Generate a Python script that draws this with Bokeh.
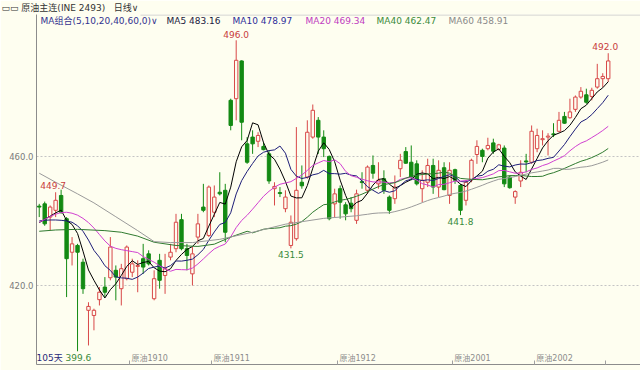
import pandas as pd
from bokeh.plotting import figure
from bokeh.models import Range1d, FixedTicker, Label, ColumnDataSource, NumeralTickFormatter
from bokeh.core.properties import value
from bokeh.embed import file_html
from bokeh.resources import INLINE

# Daily OHLC of the INE crude oil main contract, 105 sessions
opens = [444.6, 445.3, 441.2, 443.3, 447.9, 440.7, 430.3, 432.4, 427.2, 412.3,
         410.7, 415.6, 419.5, 422.4, 424.7, 419.0, 422.1, 424.1, 425.9, 428.3,
         429.8, 415.9, 427.8, 423.1, 428.8, 431.4, 440.4, 431.4, 423.6, 435.0,
         444.3, 435.5, 442.7, 448.9, 449.5, 477.4, 477.9, 489.6, 463.9, 466.0,
         464.7, 463.1, 460.8, 450.0, 448.8, 443.8, 432.4, 434.5, 452.0, 453.6,
         466.0, 471.2, 466.0, 460.0, 445.3, 450.0, 445.0, 445.5, 440.2, 452.2,
         449.5, 457.2, 451.5, 453.1, 447.4, 446.9, 456.2, 461.5, 458.2, 457.7,
         450.0, 452.0, 457.2, 450.5, 456.5, 447.9, 455.9, 451.0, 446.4, 452.8,
         460.6, 461.9, 462.4, 464.2, 462.2, 462.6, 453.6, 447.4, 452.4, 458.6,
         458.2, 462.4, 465.2, 466.0, 467.0, 467.8, 472.4, 472.0, 474.6, 478.4,
         479.1, 478.6, 481.5, 484.1, 484.1]
highs = [445.3, 446.0, 444.8, 448.9, 449.7, 441.2, 435.0, 432.9, 428.3, 414.8,
         412.8, 419.5, 422.6, 435.0, 426.2, 426.7, 432.4, 428.3, 427.8, 432.9,
         430.9, 424.7, 429.8, 429.8, 432.9, 442.2, 442.2, 432.9, 431.9, 442.2,
         451.5, 451.0, 451.0, 455.1, 451.5, 477.9, 496.0, 489.8, 466.0, 468.1,
         467.5, 464.4, 461.9, 452.0, 450.5, 449.5, 441.7, 469.1, 457.2, 471.2,
         476.1, 472.2, 468.1, 460.3, 450.0, 451.0, 445.8, 447.4, 449.7, 455.1,
         457.2, 460.3, 458.2, 455.7, 447.9, 454.1, 460.8, 462.9, 463.4, 458.8,
         455.7, 459.3, 459.3, 458.8, 458.2, 458.2, 456.2, 451.5, 452.6, 459.3,
         465.0, 462.4, 465.8, 465.5, 463.9, 463.4, 454.1, 449.5, 458.8, 460.8,
         469.6, 468.6, 468.1, 467.2, 470.3, 473.8, 473.8, 477.9, 478.9, 481.5,
         481.0, 481.3, 488.7, 485.8, 492.0]
lows = [441.2, 438.5, 437.1, 441.2, 442.2, 416.4, 426.2, 399.6, 417.4, 401.4,
        406.1, 413.8, 416.4, 421.6, 415.4, 413.8, 421.6, 422.6, 417.9, 423.6,
        426.2, 415.4, 419.0, 417.4, 427.8, 430.3, 430.9, 424.7, 420.0, 432.9,
        442.7, 435.0, 441.2, 447.9, 433.4, 468.1, 471.2, 465.0, 457.7, 460.8,
        462.9, 461.9, 451.5, 444.8, 447.4, 442.7, 431.5, 433.9, 450.0, 453.1,
        465.5, 460.8, 459.8, 440.2, 441.2, 440.7, 440.2, 442.7, 439.1, 450.0,
        448.4, 453.1, 450.0, 448.4, 442.2, 445.3, 453.6, 457.7, 452.6, 451.0,
        445.8, 450.5, 448.4, 447.4, 449.5, 445.3, 451.5, 441.8, 444.8, 452.0,
        457.7, 458.2, 461.9, 460.8, 461.9, 450.5, 450.0, 445.3, 450.5, 455.1,
        457.7, 461.3, 463.4, 460.3, 466.0, 467.5, 470.1, 471.7, 473.8, 477.9,
        476.3, 477.4, 481.0, 481.5, 483.1]
closes = [444.3, 439.1, 444.3, 446.4, 442.7, 428.3, 432.9, 430.3, 419.0, 413.5,
          412.3, 417.9, 417.9, 431.9, 422.6, 425.2, 431.9, 426.7, 426.2, 425.7,
          426.7, 422.1, 421.6, 425.2, 430.3, 439.6, 431.4, 429.3, 429.8, 439.1,
          443.3, 450.5, 447.4, 448.4, 436.5, 469.6, 489.8, 470.6, 458.2, 463.9,
          466.5, 462.1, 452.4, 450.7, 448.5, 447.4, 439.6, 449.5, 450.9, 467.5,
          474.3, 466.0, 462.4, 440.7, 448.4, 445.8, 442.2, 443.8, 448.4, 451.9,
          456.7, 454.8, 452.6, 449.5, 443.3, 450.5, 458.8, 457.9, 453.6, 451.5,
          452.6, 457.2, 450.5, 455.7, 449.7, 455.7, 452.6, 443.3, 452.0, 458.8,
          463.1, 460.0, 463.4, 461.6, 463.6, 451.5, 450.3, 449.1, 455.1, 458.3,
          467.8, 466.5, 465.5, 466.3, 466.7, 471.2, 470.3, 473.8, 478.4, 480.2,
          476.8, 480.5, 484.1, 484.8, 489.6]

# Moving-average values before enough sessions are on screen (index -> price)
ma5_head_x = [0, 1, 2, 3]
ma5_head_y = [439.5, 440.5, 441.5, 442.5]
ma10_head_x = [0, 1, 2, 3, 4, 5, 6, 7, 8]
ma10_head_y = [440.0, 440.2, 440.3, 440.3, 440.2, 440.0, 439.6, 438.5, 436.8]
ma20_head_x = list(range(19))
ma20_head_y = [439.6, 440.5, 441.4, 442.1, 442.6, 442.7, 442.4, 441.8, 440.8, 439.5,
               437.8, 435.8, 433.8, 432.2, 431.5, 431.1, 430.8, 430.5, 430.2]
ma40_head_x = [0, 3, 7, 12, 15, 18, 21, 25, 29, 32, 35, 38]
ma40_head_y = [436.8, 437.2, 437.4, 437.0, 436.5, 435.3, 433.4, 432.4, 432.1, 432.8, 435.0, 436.8]
ma60_head_x = [0, 3, 7, 10, 14, 18, 21, 24, 28, 33, 39, 45, 52, 58]
ma60_head_y = [454.8, 452.0, 448.4, 445.6, 441.3, 437.0, 433.6, 433.3, 433.3, 434.3, 436.5, 439.0, 440.8, 441.6]

ma_periods = [5, 10, 20, 40, 60]
ma_colors = ["#000000", "#1E1E78", "#D040D0", "#2F7A2F", "#9A9A9A"]
ma_text_colors = ["#1A1A40", "#2E2E9A", "#C03CC0", "#3A8A3A", "#8A8A8A"]

month_ticks = [16.5, 31.5, 54.5, 75.5, 90.5]
month_labels = ["原油1910", "原油1911", "原油1912", "原油2001", "原油2002"]

peak_idx = [4, 36, 104]
trough_idx = [46, 77]

BG = "#FEFEF0"
UP = "#D84848"
DOWN = "#138A13"
FONT = "DejaVu Sans, Noto Sans CJK SC"

n = len(closes)
idx = list(range(n))

X0, X1 = -0.5, 109.9
Y0, Y1 = 395.5, 504.0

p = figure(width=640, height=370, output_backend="svg", toolbar_location=None,
           x_range=Range1d(X0, X1), y_range=Range1d(Y0, Y1),
           min_border_left=36, min_border_right=0, min_border_top=14, min_border_bottom=6,
           background_fill_color=BG, border_fill_color=BG, outline_line_color=None)

# header line above the chart
p.title.text = "▭▭ 原油主连(INE 2493)\u00a0\u00a0\u00a0日线∨"
p.title.align = "left"
p.title.offset = -35
p.title.standoff = 1
p.title.vertical_align = "middle"
p.title.text_font = FONT
p.title.text_font_size = "9px"
p.title.text_font_style = "normal"
p.title.text_color = "#333333"

# axes and grid
p.yaxis.ticker = FixedTicker(ticks=[420, 460])
p.yaxis.formatter = NumeralTickFormatter(format="0.0")
p.yaxis.major_tick_out = 0
p.yaxis.major_tick_in = 0
p.yaxis.minor_tick_line_color = None
p.yaxis.axis_line_color = "#8C8C8C"
p.yaxis.major_label_standoff = 3
p.yaxis.major_label_text_font = FONT
p.yaxis.major_label_text_font_size = "8.5px"
p.yaxis.major_label_text_color = "#7A7A7A"

p.ygrid.ticker = FixedTicker(ticks=[420, 460])
p.ygrid.grid_line_color = "#C4C4C4"
p.ygrid.grid_line_dash = "2 2"
p.xgrid.visible = False

p.xaxis.ticker = FixedTicker(ticks=month_ticks + [103.5])
p.xaxis.major_label_overrides = {t: "" for t in month_ticks + [103.5]}
p.xaxis.major_label_standoff = 0
p.xaxis.major_label_text_font_size = "1px"
p.xaxis.major_tick_in = 4
p.xaxis.major_tick_out = 0
p.xaxis.major_tick_line_color = "#A0A0A0"
p.xaxis.minor_tick_line_color = None
p.xaxis.axis_line_color = "#8C8C8C"

# thin rule under the header
p.segment(x0=[18.5], y0=[Y1 - 0.15], x1=[X1], y1=[Y1 - 0.15], line_color="#C8C8C8", line_width=1)

# month names along the bottom edge
p.text(x=month_ticks, y=[Y0] * len(month_ticks), text=month_labels,
       text_align="left", text_baseline="bottom", x_offset=2, y_offset=-2,
       text_font=value(FONT), text_font_size="8px", text_color="#8C8C8C")

# candles
up = [i for i in idx if closes[i] >= opens[i]]
dn = [i for i in idx if closes[i] < opens[i]]

def candle_source(sel):
    return ColumnDataSource(dict(
        x=sel,
        high=[highs[i] for i in sel],
        low=[lows[i] for i in sel],
        top=[max(opens[i], closes[i]) for i in sel],
        bottom=[min(opens[i], closes[i]) for i in sel],
    ))

up_src = candle_source(up)
dn_src = candle_source(dn)

p.segment(x0="x", y0="high", x1="x", y1="low", source=up_src, line_color=UP, line_width=1)
p.segment(x0="x", y0="high", x1="x", y1="low", source=dn_src, line_color=DOWN, line_width=1)
p.vbar(x="x", top="top", bottom="bottom", width=0.62, source=up_src,
       fill_color=BG, line_color=UP, line_width=1)
p.vbar(x="x", top="top", bottom="bottom", width=0.62, source=dn_src,
       fill_color=DOWN, line_color=DOWN, line_width=1)

# moving averages
close_s = pd.Series(closes)
heads = [(ma5_head_x, ma5_head_y), (ma10_head_x, ma10_head_y), (ma20_head_x, ma20_head_y),
         (ma40_head_x, ma40_head_y), (ma60_head_x, ma60_head_y)]
ma_last = []
for period, (hx, hy), col in zip(ma_periods, heads, ma_colors):
    rolled = close_s.rolling(period).mean()
    xs = list(hx) + list(range(period - 1, n))
    ys = list(hy) + list(rolled.iloc[period - 1:])
    p.line(xs, ys, line_color=col, line_width=1)
    ma_last.append(rolled.iloc[-1])

# high / low value marks
p.text(x=[peak_idx[0]], y=[highs[peak_idx[0]]], text=[f"{highs[peak_idx[0]]:.1f}"],
       text_align="center", text_baseline="bottom", x_offset=-8, y_offset=-1,
       text_font=value("DejaVu Sans"), text_font_size="9px", text_color="#C83C3C")
p.text(x=[peak_idx[1]], y=[highs[peak_idx[1]]], text=[f"{highs[peak_idx[1]]:.1f}"],
       text_align="center", text_baseline="bottom", y_offset=-2,
       text_font=value("DejaVu Sans"), text_font_size="9px", text_color="#C83C3C")
p.text(x=[peak_idx[2]], y=[highs[peak_idx[2]]], text=[f"{highs[peak_idx[2]]:.1f}"],
       text_align="center", text_baseline="bottom", x_offset=-3, y_offset=-3,
       text_font=value("DejaVu Sans"), text_font_size="9px", text_color="#C83C3C")
p.text(x=trough_idx, y=[lows[i] for i in trough_idx], text=[f"{lows[i]:.1f}" for i in trough_idx],
       text_align="center", text_baseline="top", y_offset=3,
       text_font=value("DejaVu Sans"), text_font_size="9px", text_color="#3A8A3A")

# legend row and bottom info
def add_label(x, y, text, color, size="9px"):
    p.add_layout(Label(x=x, y=y, x_units="screen", y_units="screen", text=text,
                       text_color=color, text_font=FONT, text_font_size=size,
                       text_baseline="middle", text_align="left"))

add_label(4, 344, "MA组合(5,10,20,40,60,0)∨", "#33338F")
legend_x = [130, 196, 269, 340, 412]
for lx, period, val, col in zip(legend_x, ma_periods, ma_last, ma_text_colors):
    add_label(lx, 344, f"MA{period} {val:.2f}", col)

lowest = min(lows)
add_label(0, 7, f"{n}天", "#2A2A7A")
add_label(29, 7, f"{lowest:.1f}", "#3A8A3A")

open("out.html", "w").write(file_html(p, INLINE))
